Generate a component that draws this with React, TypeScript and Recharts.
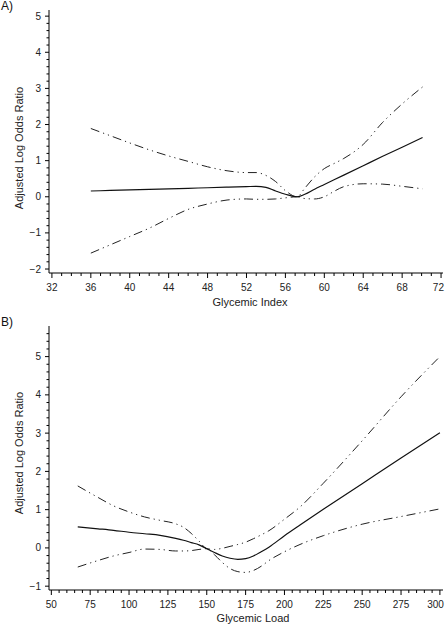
import React from 'react';
import { LineChart, Line, XAxis, YAxis } from 'recharts';

// Panel A: Glycemic Index
const giX = [36, 38, 40, 42, 44, 46, 48, 50, 52, 53, 54, 55, 56, 57.2, 58, 59, 60, 61, 62, 64, 66, 68, 70.1];
const giEstimate = [0.16, 0.175, 0.19, 0.205, 0.22, 0.235, 0.25, 0.265, 0.28, 0.29, 0.26, 0.16, 0.07, 0.0, 0.07, 0.21, 0.34, 0.47, 0.6, 0.86, 1.12, 1.37, 1.64];
const giUpper = [1.89, 1.69, 1.49, 1.3, 1.13, 0.98, 0.83, 0.72, 0.67, 0.67, 0.59, 0.42, 0.17, 0.0, 0.24, 0.55, 0.78, 0.92, 1.06, 1.45, 2.06, 2.57, 3.04];
const giLower = [-1.56, -1.33, -1.1, -0.87, -0.6, -0.35, -0.2, -0.09, -0.06, -0.07, -0.07, -0.06, -0.03, 0.0, -0.05, -0.06, 0.0, 0.15, 0.28, 0.36, 0.35, 0.29, 0.22];
const giXMajor = [32, 36, 40, 44, 48, 52, 56, 60, 64, 68, 72];
const giYMajor = [-2, -1, 0, 1, 2, 3, 4, 5];

// Panel B: Glycemic Load
const glX = [67, 80, 90, 100, 110, 120, 130, 135, 140, 145, 150, 155, 160, 165, 170, 175, 180, 185, 190, 200, 210, 225, 250, 275, 300];
const glEstimate = [0.55, 0.5, 0.46, 0.41, 0.37, 0.33, 0.25, 0.2, 0.14, 0.08, -0.02, -0.12, -0.21, -0.27, -0.3, -0.28, -0.21, -0.1, 0.02, 0.32, 0.6, 1.01, 1.68, 2.35, 3.01];
const glUpper = [1.62, 1.32, 1.1, 0.94, 0.81, 0.72, 0.63, 0.54, 0.38, 0.18, -0.02, -0.04, -0.01, 0.04, 0.09, 0.15, 0.24, 0.34, 0.45, 0.75, 1.07, 1.69, 2.8, 3.95, 5.0];
const glLower = [-0.5, -0.33, -0.21, -0.12, -0.03, -0.04, -0.08, -0.08, -0.07, -0.04, -0.02, -0.18, -0.38, -0.54, -0.62, -0.64, -0.59, -0.48, -0.33, -0.1, 0.09, 0.32, 0.62, 0.82, 1.02];
const glXMajor = [50, 75, 100, 125, 150, 175, 200, 225, 250, 275, 300];
const glYMajor = [-1, 0, 1, 2, 3, 4, 5];

const FONT = '"Liberation Sans", Arial, sans-serif';
const DASH = '9 4 1.2 4 1.2 4';

function subdivide(majors: number[], parts: number, extraEnd: number): number[] {
  const out: number[] = [];
  const step = (majors[1] - majors[0]) / parts;
  const last = majors[majors.length - 1] + extraEnd * step;
  for (let i = 0; majors[0] + i * step <= last + 1e-9; i++) {
    out.push(Math.round((majors[0] + i * step) * 1000) / 1000);
  }
  return out;
}

const isMajor = (majors: number[], v: number) => majors.some((m) => Math.abs(m - v) < 1e-6);
const fmt = (v: number) => (v < 0 ? '\u2212' + Math.abs(v) : String(v));

const makeXTick = (majors: number[]) => (props: any) => {
  const { x, y, payload } = props;
  const major = isMajor(majors, payload.value);
  const label = fmt(payload.value);
  const halfW = label.length * 2.8;
  const tx = Math.min(x, 444 - halfW);
  return (
    <g>
      <line x1={x} x2={x} y1={y} y2={y + (major ? 5 : 3)} stroke="#000" strokeWidth={1} />
      {major && (
        <text x={tx} y={y + 17.5} textAnchor="middle" fontSize={10} fontFamily={FONT} fill="#222">
          {label}
        </text>
      )}
    </g>
  );
};

const makeYTick = (majors: number[]) => (props: any) => {
  const { x, y, payload } = props;
  const major = isMajor(majors, payload.value);
  return (
    <g>
      <line x1={x} x2={x - (major ? 4 : 2.5)} y1={y} y2={y} stroke="#000" strokeWidth={1} />
      {major && (
        <text x={x - 8} y={y + 3.5} textAnchor="end" fontSize={10} fontFamily={FONT} fill="#222">
          {fmt(payload.value)}
        </text>
      )}
    </g>
  );
};

type PanelProps = {
  xs: number[];
  est: number[];
  up: number[];
  lo: number[];
  xMajor: number[];
  xParts: number;
  yMajor: number[];
  yExtra: number;
  xDomain: [number, number];
  yDomain: [number, number];
  top: number;
  xAxisHeight: number;
  xLabel: string;
  xLabelPos: [number, number];
  yLabelY: number;
};

function Panel(p: PanelProps) {
  const data = p.xs.map((x, i) => ({ x, est: p.est[i], up: p.up[i], lo: p.lo[i] }));
  const xTicks = subdivide(p.xMajor, p.xParts, 0);
  const yTicks = subdivide(p.yMajor, 5, p.yExtra);
  return (
    <LineChart
      width={445}
      height={313}
      data={data}
      margin={{ top: p.top, right: 2, left: 0, bottom: 0 }}
    >
      <XAxis
        dataKey="x"
        type="number"
        domain={p.xDomain}
        allowDataOverflow
        ticks={xTicks}
        interval={0}
        tickSize={0}
        tickMargin={0}
        tickLine={false}
        axisLine={{ stroke: '#000', strokeWidth: 1 }}
        tick={makeXTick(p.xMajor)}
        height={p.xAxisHeight}
        label={{
          content: () => (
            <text
              x={p.xLabelPos[0]}
              y={p.xLabelPos[1]}
              textAnchor="middle"
              dominantBaseline="central"
              fontSize={11}
              fontFamily={FONT}
              fill="#222"
            >
              {p.xLabel}
            </text>
          ),
        }}
      />
      <YAxis
        type="number"
        domain={p.yDomain}
        allowDataOverflow
        ticks={yTicks}
        interval={0}
        width={49}
        tickSize={0}
        tickMargin={0}
        tickLine={false}
        axisLine={{ stroke: '#000', strokeWidth: 1 }}
        tick={makeYTick(p.yMajor)}
        label={{
          content: () => (
            <text
              x={19}
              y={p.yLabelY}
              transform={`rotate(-90 19 ${p.yLabelY})`}
              textAnchor="middle"
              dominantBaseline="central"
              fontSize={11}
              fontFamily={FONT}
              fill="#222"
            >
              Adjusted Log Odds Ratio
            </text>
          ),
        }}
      />
      <Line type="monotone" dataKey="up" stroke="#222" strokeWidth={1} strokeDasharray={DASH} dot={false} isAnimationActive={false} />
      <Line type="monotone" dataKey="lo" stroke="#222" strokeWidth={1} strokeDasharray={DASH} dot={false} isAnimationActive={false} />
      <Line type="monotone" dataKey="est" stroke="#111" strokeWidth={1.2} dot={false} isAnimationActive={false} />
    </LineChart>
  );
}

export default function App() {
  return (
    <div style={{ position: 'absolute', left: 0, top: 0, width: 445, height: 626, background: '#fff', fontFamily: FONT }}>
      <div style={{ position: 'absolute', left: 0, top: 0 }}>
        <Panel
          xs={giX}
          est={giEstimate}
          up={giUpper}
          lo={giLower}
          xMajor={giXMajor}
          xParts={4}
          yMajor={giYMajor}
          yExtra={0}
          xDomain={[31.7, 72.2]}
          yDomain={[-2.11, 5.17]}
          top={10}
          xAxisHeight={40}
          xLabel="Glycemic Index"
          xLabelPos={[250, 301.5]}
          yLabelY={148}
        />
      </div>
      <div style={{ position: 'absolute', left: 0, top: 313 }}>
        <Panel
          xs={glX}
          est={glEstimate}
          up={glUpper}
          lo={glLower}
          xMajor={glXMajor}
          xParts={5}
          yMajor={glYMajor}
          yExtra={3}
          xDomain={[48.5, 302]}
          yDomain={[-1.1, 5.8]}
          top={13}
          xAxisHeight={36}
          xLabel="Glycemic Load"
          xLabelPos={[253, 305]}
          yLabelY={140}
        />
      </div>
      <div style={{ position: 'absolute', left: 1, top: 0, fontSize: 12, lineHeight: '12px', color: '#111' }}>A)</div>
      <div style={{ position: 'absolute', left: 1, top: 316, fontSize: 12, lineHeight: '12px', color: '#111' }}>B)</div>
    </div>
  );
}
